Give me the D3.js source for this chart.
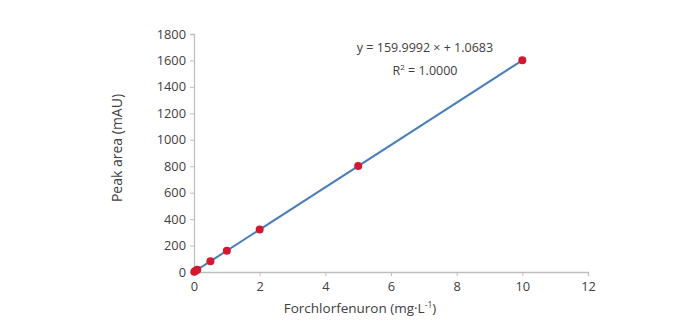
<!DOCTYPE html>
<html><head><meta charset="utf-8">
<script src="https://cdn.jsdelivr.net/npm/d3@7"></script>
<style>
body{margin:0;background:#fff;}
text{font-family:"Open Sans",sans-serif;}
</style></head>
<body><svg id="c" width="692" height="321"></svg>
<script>
const concentrations = [0.01, 0.05, 0.1, 0.5, 1, 2, 5, 10];
const peakAreas = [2.7, 9.1, 17.1, 81.0, 161.1, 321.1, 801.1, 1601.1];
const xTicks = [0, 2, 4, 6, 8, 10, 12];
const yTicks = [0, 200, 400, 600, 800, 1000, 1200, 1400, 1600, 1800];
const slope = 159.9992, intercept = 1.0683;
const eqLabel = "y = 159.9992 × + 1.0683";
const r2Label = "R";

const svg = d3.select("#c");
const x = d3.scaleLinear().domain([0, 12]).range([194, 588]);
const y = d3.scaleLinear().domain([0, 1800]).range([272, 34]);

const axisColor = "#bfbfbf", textColor = "#404040";

const gx = svg.append("g").attr("transform", `translate(0,${y(0)})`)
  .call(d3.axisBottom(x).tickValues(xTicks).tickSize(4).tickPadding(6).tickFormat(d3.format("d")));
const gy = svg.append("g").attr("transform", `translate(${x(0)},0)`)
  .call(d3.axisLeft(y).tickValues(yTicks).tickSize(4).tickPadding(4).tickFormat(d3.format("d")));
[gx, gy].forEach(g => {
  g.select(".domain").attr("stroke", axisColor).attr("stroke-width", 1.3);
  g.selectAll(".tick line").attr("stroke", axisColor);
  g.selectAll(".tick text").attr("fill", textColor).style("font-size", "12.8px").style("font-family", "'Open Sans',sans-serif");
});

// trendline
const x0 = d3.min(concentrations), x1 = d3.max(concentrations);
svg.append("line")
  .attr("x1", x(x0)).attr("y1", y(slope * x0 + intercept))
  .attr("x2", x(x1)).attr("y2", y(slope * x1 + intercept))
  .attr("stroke", "#4a7ebb").attr("stroke-width", 2);

svg.selectAll("circle.pt").data(concentrations).join("circle").attr("class", "pt")
  .attr("cx", (d) => x(d)).attr("cy", (d, i) => y(peakAreas[i]))
  .attr("r", 4).attr("fill", "#d2192f");

// equation
svg.append("text").attr("x", 425).attr("y", 52).attr("text-anchor", "middle")
  .attr("fill", textColor).style("font-size", "12.5px").text(eqLabel);
const r2 = svg.append("text").attr("x", 425).attr("y", 75).attr("text-anchor", "middle")
  .attr("fill", textColor).style("font-size", "12.5px");
r2.append("tspan").text(r2Label);
r2.append("tspan").attr("dy", -5).style("font-size", "8px").text("2");
r2.append("tspan").attr("dy", 5).text(" = 1.0000");

// axis titles
const xt = svg.append("text").attr("x", 360).attr("y", 313).attr("text-anchor", "middle")
  .attr("fill", textColor).style("font-size", "13.5px");
xt.append("tspan").text("Forchlorfenuron (mg·L");
xt.append("tspan").attr("dy", -5).style("font-size", "8.5px").text("-1");
xt.append("tspan").attr("dy", 5).text(")");

svg.append("text").attr("transform", "translate(122,148) rotate(-90)").attr("text-anchor", "middle")
  .attr("fill", textColor).style("font-size", "14px").text("Peak area (mAU)");
</script></body></html>
